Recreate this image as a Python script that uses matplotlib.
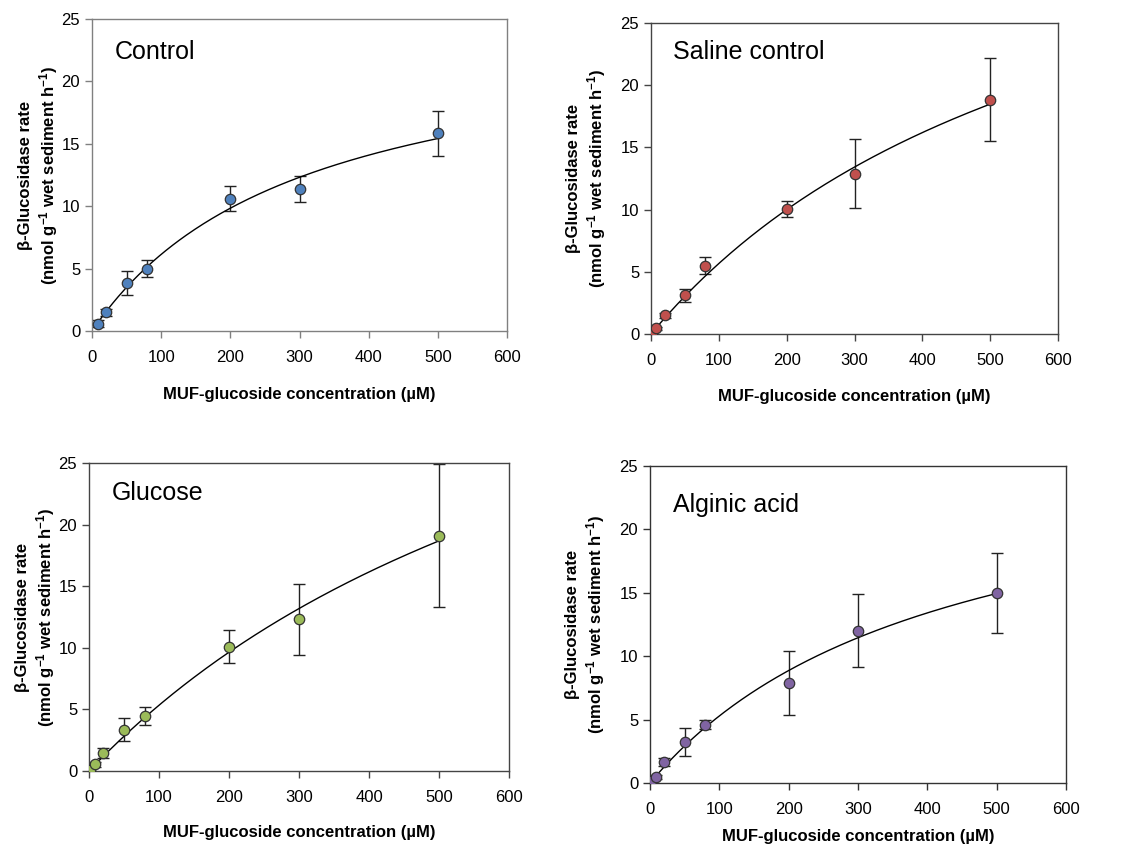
import numpy as np
import matplotlib
matplotlib.use('Agg')
import matplotlib.pyplot as plt

plt.rcParams['font.family'] = ['Liberation Sans', 'DejaVu Sans']
plt.rcParams['mathtext.fontset'] = 'custom'
plt.rcParams['mathtext.rm'] = 'Liberation Sans'
plt.rcParams['mathtext.bf'] = 'Liberation Sans:bold'

# data
titles = ['Control', 'Saline control', 'Glucose', 'Alginic acid']
colors = ['#4F81BD', '#C0504D', '#9BBB59', '#8064A2']

ctrl_x = [8, 20, 50, 80, 200, 300, 500]
ctrl_y = [0.6, 1.5, 3.85, 5.0, 10.6, 11.35, 15.85]
ctrl_e = [0.3, 0.3, 0.95, 0.7, 1.0, 1.05, 1.8]

sal_x = [2, 8, 20, 50, 80, 200, 300, 500]
sal_y = [0.05, 0.45, 1.5, 3.1, 5.5, 10.05, 12.9, 18.85]
sal_e = [0.1, 0.15, 0.2, 0.5, 0.7, 0.65, 2.8, 3.3]

glu_x = [2, 8, 20, 50, 80, 200, 300, 500]
glu_y = [0.05, 0.55, 1.45, 3.35, 4.45, 10.1, 12.3, 19.1]
glu_e = [0.1, 0.2, 0.4, 0.93, 0.73, 1.33, 2.87, 5.8]

alg_x = [2, 8, 20, 50, 80, 200, 300, 500]
alg_y = [0.12, 0.5, 1.65, 3.2, 4.6, 7.9, 12.0, 15.0]
alg_e = [0.1, 0.15, 0.3, 1.1, 0.35, 2.5, 2.87, 3.15]

# Michaelis-Menten fit parameters (Vmax, Km)
fit_v = [24.8, 42.5, 49.8, 27.5]
fit_k = [304, 650, 833, 420]

xs = [ctrl_x, sal_x, glu_x, alg_x]
ys = [ctrl_y, sal_y, glu_y, alg_y]
es = [ctrl_e, sal_e, glu_e, alg_e]

W, H = 1130, 848
# axes boxes in pixels: left, right, top, bottom
boxes = [(92, 507, 19, 331), (651, 1058, 23, 334),
         (89, 509, 463, 771), (650, 1066, 466, 783)]
xlab_px = [63, 63, 62, 54]     # x label centre below the axis, px
title_px = [33, 29, 30, 39]    # title centre below the axis top, px
ylab_pad = [1, 9, 1, 9]
spine_col = ['#808080', '#444444', '#444444', '#333333']

fig = plt.figure(figsize=(W / 100, H / 100), dpi=100)

for i in range(4):
    l, r, t, b = boxes[i]
    ax = fig.add_axes([l / W, (H - b) / H, (r - l) / W, (b - t) / H])
    x = np.array(xs[i], dtype=float)
    xx = np.linspace(x.min(), x.max(), 200)
    ax.plot(xx, fit_v[i] * xx / (fit_k[i] + xx), color='black', lw=1.0, zorder=2)
    ax.errorbar(x, ys[i], yerr=es[i], fmt='none', ecolor='#222222',
                elinewidth=1.0, capsize=4, capthick=1.0, zorder=1)
    ax.plot(x, ys[i], 'o', ms=7.5, mfc=colors[i], mec='#333333', mew=0.9, zorder=3)

    ax.set_xlim(0, 600)
    ax.set_ylim(0, 25)
    ax.set_xticks(np.arange(0, 601, 100))
    ax.set_yticks(np.arange(0, 26, 5))
    ax.tick_params(direction='out', length=5, width=1, labelsize=12,
                   colors=spine_col[i], labelcolor='black', top=False, right=False)
    ax.tick_params(axis='x', pad=9)
    for s in ax.spines.values():
        s.set_linewidth(1.0)
        s.set_color(spine_col[i])

    ax.set_xlabel(u'MUF-glucoside concentration (\u00b5M)', fontsize=12,
                  fontweight='bold', va='center')
    ax.xaxis.set_label_coords(0.5, -xlab_px[i] / (b - t))
    ax.set_ylabel(u'\u03b2-Glucosidase rate\n(nmol g$\\mathbf{^{-1}}$ wet sediment h$\\mathbf{^{-1}}$)',
                  fontsize=12, fontweight='bold', labelpad=ylab_pad[i], linespacing=1.25)
    ax.text(0.055, 1 - title_px[i] / (b - t), titles[i], transform=ax.transAxes,
            fontsize=18, va='center', ha='left')

fig.savefig('out.png', dpi=100)
